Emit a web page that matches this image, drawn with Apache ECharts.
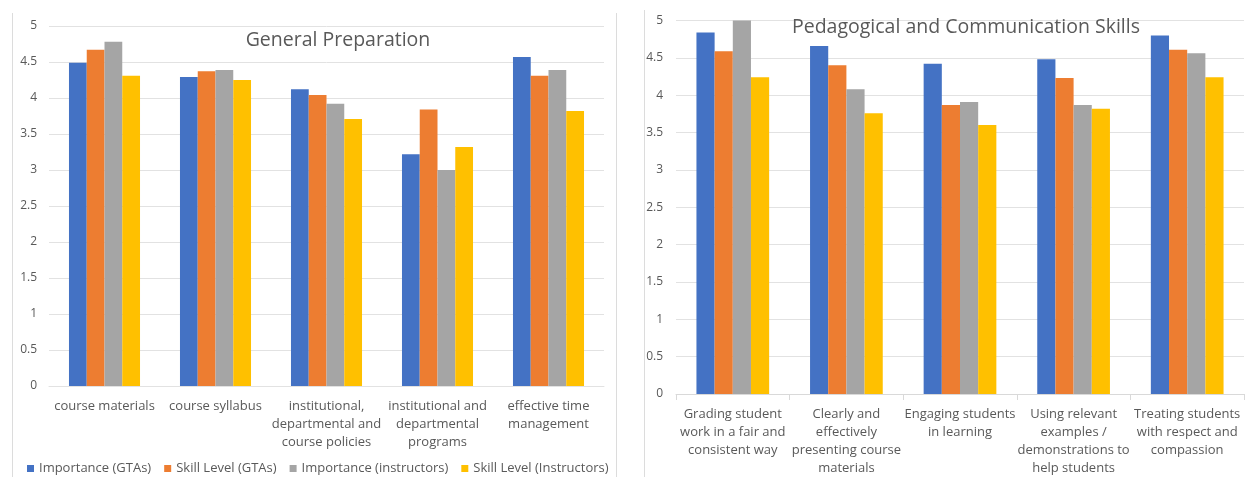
<!DOCTYPE html>
<html><head><meta charset="utf-8">
<script src="https://cdn.jsdelivr.net/npm/echarts@6/dist/echarts.min.js"></script>
<style>html,body{margin:0;padding:0;background:#fff}#c{width:1248px;height:477px}</style>
</head><body><div id="c"></div>
<script>
const seriesNames = ['Importance (GTAs)', 'Skill Level (GTAs)', 'Importance (instructors)', 'Skill Level (Instructors)'];
const colors = ['#4472C4', '#ED7D31', '#A5A5A5', '#FFC000'];

const leftTitle = 'General Preparation';
const leftCategories = ['course materials', 'course syllabus', 'institutional,\ndepartmental and\ncourse policies', 'institutional and\ndepartmental\nprograms', 'effective time\nmanagement'];
const leftImportanceGTAs = [4.49, 4.29, 4.12, 3.22, 4.57];
const leftSkillGTAs = [4.67, 4.37, 4.04, 3.84, 4.31];
const leftImportanceInstr = [4.78, 4.39, 3.92, 3.00, 4.39];
const leftSkillInstr = [4.31, 4.25, 3.71, 3.32, 3.82];

const rightTitle = 'Pedagogical and Communication Skills';
const rightCategories = ['Grading student\nwork in a fair and\nconsistent way', 'Clearly and\neffectively\npresenting course\nmaterials', 'Engaging students\nin learning', 'Using relevant\nexamples /\ndemonstrations to\nhelp students', 'Treating students\nwith respect and\ncompassion'];
const rightImportanceGTAs = [4.84, 4.66, 4.42, 4.48, 4.80];
const rightSkillGTAs = [4.59, 4.40, 3.87, 4.23, 4.61];
const rightImportanceInstr = [5.00, 4.08, 3.91, 3.87, 4.56];
const rightSkillInstr = [4.24, 3.76, 3.60, 3.82, 4.24];

const yMin = 0, yMax = 5, yInterval = 0.5;

const FONT = 'Open Sans';
const TXT = '#595959';
const GRID = '#e2e2e2';

const leftData = [leftImportanceGTAs, leftSkillGTAs, leftImportanceInstr, leftSkillInstr];
const rightData = [rightImportanceGTAs, rightSkillGTAs, rightImportanceInstr, rightSkillInstr];

function mkSeries(dataSets, idx) {
  return dataSets.map((d, i) => ({
    name: seriesNames[i], type: 'bar', xAxisIndex: idx, yAxisIndex: idx,
    data: d, barGap: '0%', barCategoryGap: '36%',
    itemStyle: { color: colors[i] }, animation: false
  }));
}

const chart = echarts.init(document.getElementById('c'), null, { renderer: 'canvas' });
chart.setOption({
  animation: false,
  textStyle: { fontFamily: FONT },
  title: [
    { text: leftTitle, left: 338, top: 30, textAlign: 'center', padding: 0,
      textStyle: { fontFamily: FONT, fontSize: 19.5, fontWeight: 'normal', color: TXT } },
    { text: rightTitle, left: 966, top: 17, textAlign: 'center', padding: 0,
      textStyle: { fontFamily: FONT, fontSize: 19.5, fontWeight: 'normal', color: TXT } }
  ],
  legend: {
    data: seriesNames, left: 22, top: 457, itemWidth: 7, itemHeight: 7, itemGap: 13,
    icon: 'rect', textStyle: { fontFamily: FONT, fontSize: 13, color: TXT }
  },
  grid: [
    { left: 49, right: 644, top: 26, bottom: 91 },
    { left: 676, right: 4, top: 20.5, bottom: 82.7 }
  ],
  xAxis: [
    { type: 'category', gridIndex: 0, data: leftCategories,
      axisLine: { lineStyle: { color: GRID } }, axisTick: { show: false },
      axisLabel: { color: TXT, fontFamily: FONT, fontSize: 13, lineHeight: 18, margin: 11, interval: 0 } },
    { type: 'category', gridIndex: 1, data: rightCategories,
      axisLine: { lineStyle: { color: '#d9d9d9' } }, axisTick: { show: true, length: 6, lineStyle: { color: '#d9d9d9' } },
      axisLabel: { color: TXT, fontFamily: FONT, fontSize: 13, lineHeight: 18, margin: 11, interval: 0 } }
  ],
  yAxis: [
    { type: 'value', gridIndex: 0, min: yMin, max: yMax, interval: yInterval,
      axisLine: { show: false }, axisTick: { show: false },
      splitLine: { lineStyle: { color: GRID } },
      axisLabel: { color: TXT, fontFamily: FONT, fontSize: 12, margin: 12 } },
    { type: 'value', gridIndex: 1, min: yMin, max: yMax, interval: yInterval,
      axisLine: { show: false }, axisTick: { show: false },
      splitLine: { lineStyle: { color: GRID } },
      axisLabel: { color: TXT, fontFamily: FONT, fontSize: 12, margin: 13 } }
  ],
  series: mkSeries(leftData, 0).concat(mkSeries(rightData, 1)),
  graphic: [
    { type: 'line', shape: { x1: 12.5, y1: 13, x2: 12.5, y2: 477 }, style: { stroke: '#dcdcdc', lineWidth: 1 }, silent: true },
    { type: 'line', shape: { x1: 616.5, y1: 13, x2: 616.5, y2: 477 }, style: { stroke: '#dcdcdc', lineWidth: 1 }, silent: true },
    { type: 'line', shape: { x1: 644.5, y1: 10, x2: 644.5, y2: 477 }, style: { stroke: '#dcdcdc', lineWidth: 1 }, silent: true }
  ]
});
</script></body></html>
